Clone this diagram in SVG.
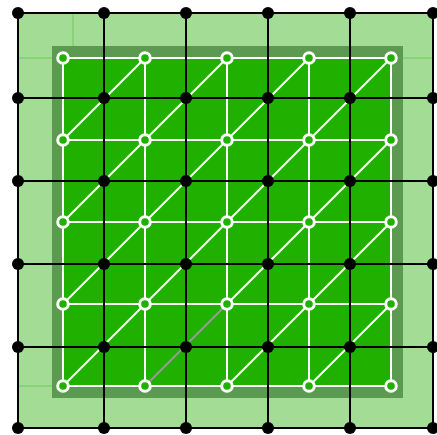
<svg xmlns="http://www.w3.org/2000/svg" width="437" height="435" viewBox="0 0 437 435">
<style>
.thin{stroke:#6acb5a;stroke-width:1;fill:none}
.wl{stroke:#ffffff;stroke-width:2;fill:none}
.gl{stroke:#999999;stroke-width:2;fill:none}
.bl{stroke:#000000;stroke-width:2;fill:none}
.wn{fill:#1fb000;stroke:#ffffff;stroke-width:3}
.bn{fill:#000000}
</style>
<rect width="437" height="435" fill="#ffffff"/>
<g id="background">
<rect x="18" y="13" width="415" height="415" fill="#a3dc94"/>
<line class="thin" x1="73" y1="13" x2="73" y2="46"/>
<line class="thin" x1="18" y1="58" x2="52" y2="58"/>
<line class="thin" x1="402" y1="58" x2="433" y2="58"/>
<line class="thin" x1="18" y1="386" x2="52" y2="386"/>
<rect x="52" y="46" width="351" height="352" fill="#5b9a50"/>
<rect x="63" y="58" width="328" height="328" fill="#1fb000"/>
</g>
<g id="connectors">
<g id="white-grid">
<path class="wl" d="M63 58H391M63 140H391M63 222H391M63 304H391M63 386H391M63 58V386M145 58V386M227 58V386M309 58V386M391 58V386"/>
<path class="wl" d="M63 140L145 58M145 140L227 58M227 140L309 58M309 140L391 58M63 222L145 140M145 222L227 140M227 222L309 140M309 222L391 140M63 304L145 222M145 304L227 222M227 304L309 222M309 304L391 222M63 386L145 304M227 386L309 304M309 386L391 304"/>
<path class="gl" d="M145 386L227 304"/>
</g>
<g id="black-grid">
<path class="bl" d="M18 13H433M18 98H433M18 181H433M18 264H433M18 347H433M18 428H433M18 13V428M104 13V428M186 13V428M268 13V428M350 13V428M433 13V428"/>
</g>
</g>
<g id="white-nodes">
<circle class="wn" cx="63" cy="58" r="5.3"/><circle class="wn" cx="145" cy="58" r="5.3"/><circle class="wn" cx="227" cy="58" r="5.3"/><circle class="wn" cx="309" cy="58" r="5.3"/><circle class="wn" cx="391" cy="58" r="5.3"/>
<circle class="wn" cx="63" cy="140" r="5.3"/><circle class="wn" cx="145" cy="140" r="5.3"/><circle class="wn" cx="227" cy="140" r="5.3"/><circle class="wn" cx="309" cy="140" r="5.3"/><circle class="wn" cx="391" cy="140" r="5.3"/>
<circle class="wn" cx="63" cy="222" r="5.3"/><circle class="wn" cx="145" cy="222" r="5.3"/><circle class="wn" cx="227" cy="222" r="5.3"/><circle class="wn" cx="309" cy="222" r="5.3"/><circle class="wn" cx="391" cy="222" r="5.3"/>
<circle class="wn" cx="63" cy="304" r="5.3"/><circle class="wn" cx="145" cy="304" r="5.3"/><circle class="wn" cx="227" cy="304" r="5.3"/><circle class="wn" cx="309" cy="304" r="5.3"/><circle class="wn" cx="391" cy="304" r="5.3"/>
<circle class="wn" cx="63" cy="386" r="5.3"/><circle class="wn" cx="145" cy="386" r="5.3"/><circle class="wn" cx="227" cy="386" r="5.3"/><circle class="wn" cx="309" cy="386" r="5.3"/><circle class="wn" cx="391" cy="386" r="5.3"/>
</g>
<g id="black-nodes">
<circle class="bn" cx="18" cy="13" r="6"/><circle class="bn" cx="104" cy="13" r="6"/><circle class="bn" cx="186" cy="13" r="6"/><circle class="bn" cx="268" cy="13" r="6"/><circle class="bn" cx="350" cy="13" r="6"/><circle class="bn" cx="433" cy="13" r="6"/>
<circle class="bn" cx="18" cy="98" r="6"/><circle class="bn" cx="104" cy="98" r="6"/><circle class="bn" cx="186" cy="98" r="6"/><circle class="bn" cx="268" cy="98" r="6"/><circle class="bn" cx="350" cy="98" r="6"/><circle class="bn" cx="433" cy="98" r="6"/>
<circle class="bn" cx="18" cy="181" r="6"/><circle class="bn" cx="104" cy="181" r="6"/><circle class="bn" cx="186" cy="181" r="6"/><circle class="bn" cx="268" cy="181" r="6"/><circle class="bn" cx="350" cy="181" r="6"/><circle class="bn" cx="433" cy="181" r="6"/>
<circle class="bn" cx="18" cy="264" r="6"/><circle class="bn" cx="104" cy="264" r="6"/><circle class="bn" cx="186" cy="264" r="6"/><circle class="bn" cx="268" cy="264" r="6"/><circle class="bn" cx="350" cy="264" r="6"/><circle class="bn" cx="433" cy="264" r="6"/>
<circle class="bn" cx="18" cy="347" r="6"/><circle class="bn" cx="104" cy="347" r="6"/><circle class="bn" cx="186" cy="347" r="6"/><circle class="bn" cx="268" cy="347" r="6"/><circle class="bn" cx="350" cy="347" r="6"/><circle class="bn" cx="433" cy="347" r="6"/>
<circle class="bn" cx="18" cy="428" r="6"/><circle class="bn" cx="104" cy="428" r="6"/><circle class="bn" cx="186" cy="428" r="6"/><circle class="bn" cx="268" cy="428" r="6"/><circle class="bn" cx="350" cy="428" r="6"/><circle class="bn" cx="433" cy="428" r="6"/>
</g>
</svg>
